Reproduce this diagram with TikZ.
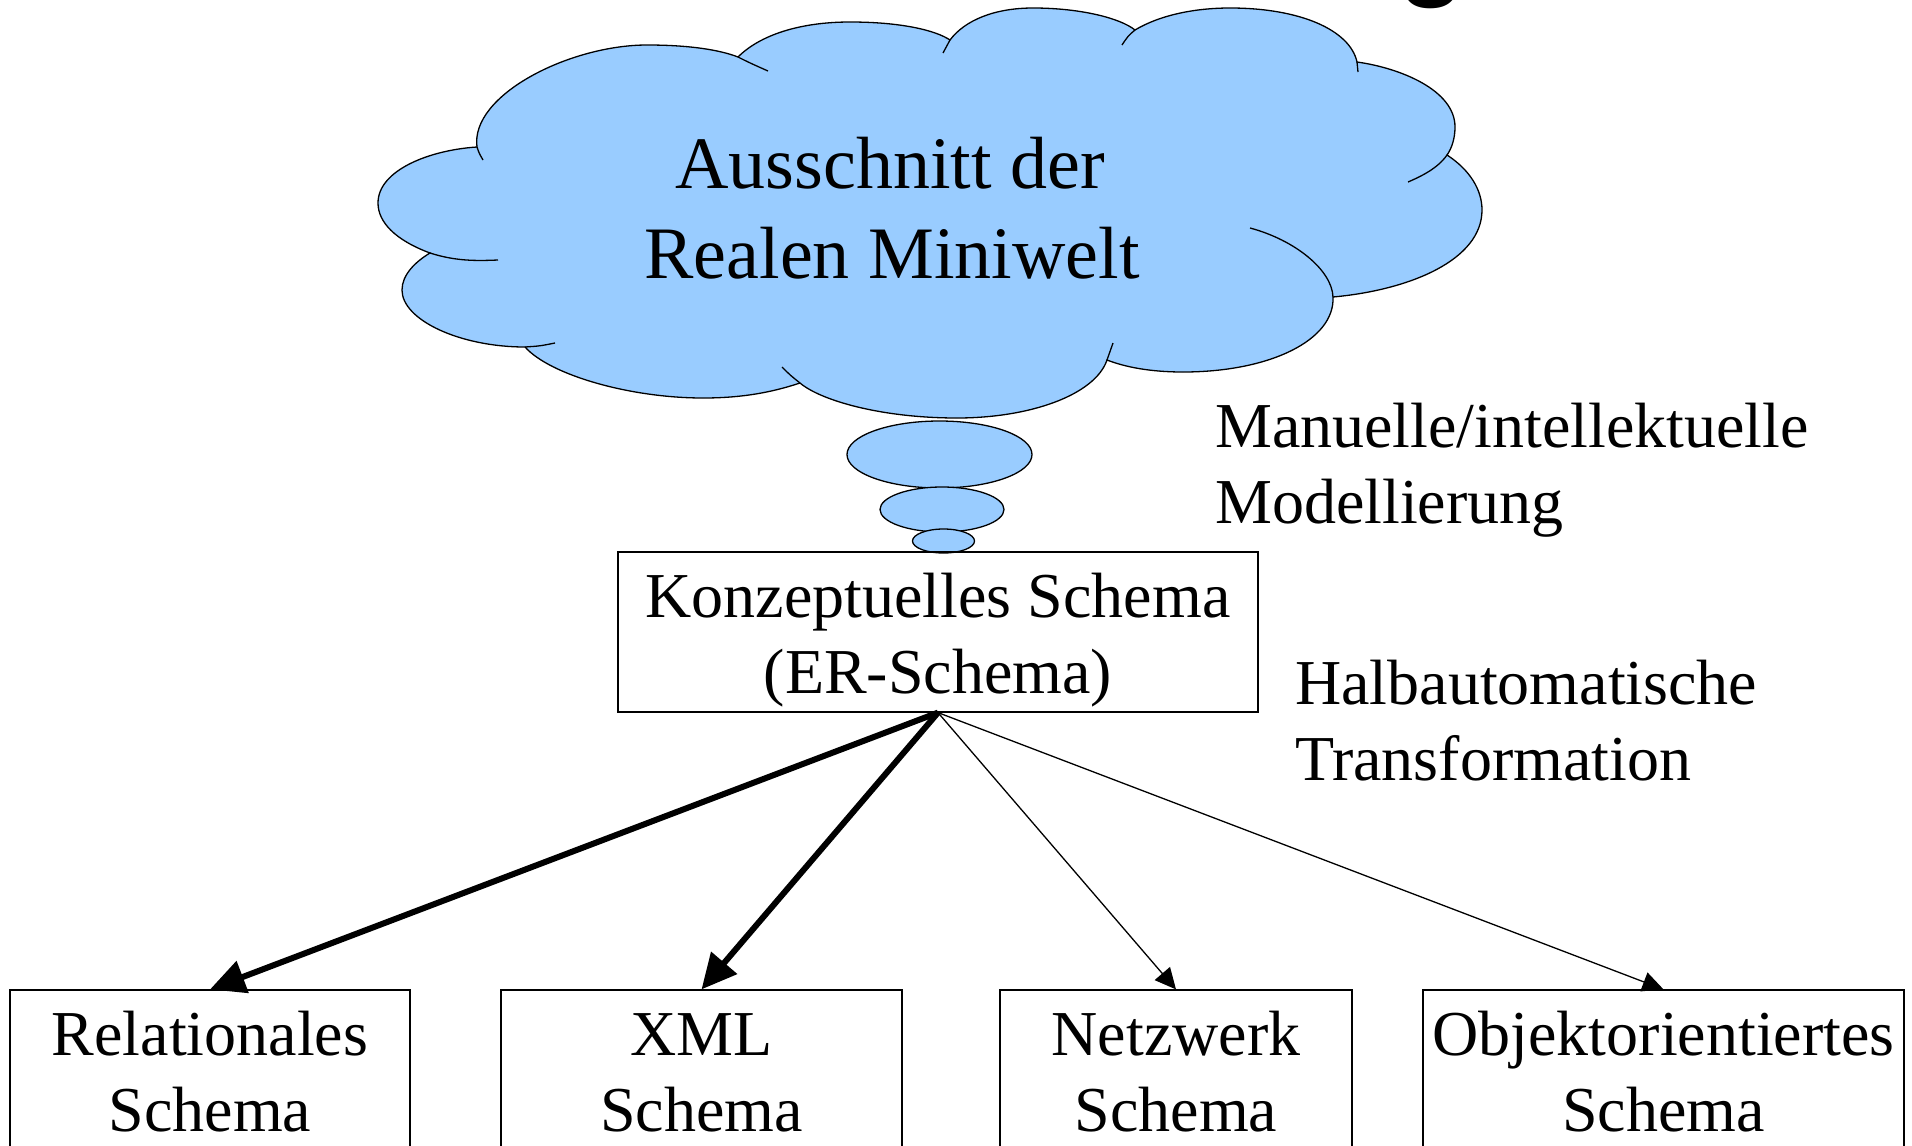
\documentclass[tikz,border=0pt]{standalone}
\usepackage{fontspec}
\setmainfont{Liberation Serif}
\newfontfamily\titlefont{Liberation Sans}
\usetikzlibrary{arrows.meta,shapes.geometric}
\definecolor{cloudblue}{HTML}{99CCFF}
\tikzset{
  cloudline/.style={draw=black, line width=1.3pt, fill=cloudblue},
  tailline/.style={draw=black, line width=1.3pt},
  txt/.style={inner sep=0pt, font=\fontsize{64}{76}\selectfont},
  bigtxt/.style={inner sep=0pt, font=\fontsize{74}{89}\selectfont},
  schemabox/.style={draw=black, line width=1.2pt, inner sep=0pt, rectangle},
  thought/.style={ellipse, draw=black, line width=1.3pt, fill=cloudblue, inner sep=0pt},
  thickarrow/.style={line width=6pt, -{Triangle[length=35pt,width=33pt]}},
  thinarrow/.style={line width=1.3pt, -{Triangle[length=21pt,width=20pt]}},
}
\begin{document}
\begin{tikzpicture}[x=1pt,y=-1pt]
\useasboundingbox (0,0) rectangle (1912,1146);
\clip (0,0) rectangle (1912,1146);
\fill[white] (0,0) rectangle (1912,1146);

% fragment of title glyph at the top edge
\node[inner sep=0pt, anchor=base, font=\titlefont\bfseries\fontsize{110}{110}\selectfont] (title) at (1432,-15) {g};

% cloud
\path[cloudline] (477,147) .. controls (470,95) and (570,45) .. (647,45)
 .. controls (690,45) and (720,50) .. (738,57)
 .. controls (760,35) and (800,22) .. (850,22)
 .. controls (900,22) and (935,30) .. (950,40)
 .. controls (965,20) and (995,8) .. (1033,8)
 .. controls (1080,8) and (1120,18) .. (1135,30)
 .. controls (1160,15) and (1195,8) .. (1230,8)
 .. controls (1300,8) and (1350,30) .. (1357,62)
 .. controls (1400,68) and (1455,90) .. (1455,127)
 .. controls (1455,138) and (1452,148) .. (1447,155)
 .. controls (1470,170) and (1482,190) .. (1482,210)
 .. controls (1482,260) and (1410,290) .. (1333,297)
 .. controls (1335,340) and (1270,372) .. (1183,372)
 .. controls (1150,372) and (1125,367) .. (1107,360)
 .. controls (1095,395) and (1030,418) .. (957,418)
 .. controls (880,418) and (820,400) .. (800,383)
 .. controls (770,393) and (740,398) .. (703,398)
 .. controls (630,398) and (550,375) .. (525,347)
 .. controls (460,347) and (402,320) .. (402,290)
 .. controls (402,275) and (415,262) .. (430,253)
 .. controls (395,240) and (378,222) .. (378,203)
 .. controls (378,170) and (430,150) .. (477,147) -- cycle;
% interior arc tails
\draw[tailline] (477,147) .. controls (479,153) .. (483,160);
\draw[tailline] (738,57) .. controls (750,63) .. (768,71);
\draw[tailline] (950,40) .. controls (946,46) .. (943,53);
\draw[tailline] (1135,30) .. controls (1128,36) .. (1122,45);
\draw[tailline] (1357,62) .. controls (1358,67) .. (1358,72);
\draw[tailline] (1447,155) .. controls (1438,168) and (1422,176) .. (1408,182);
\draw[tailline] (1333,297) .. controls (1332,270) and (1295,240) .. (1250,228);
\draw[tailline] (1107,360) .. controls (1110,352) .. (1113,343);
\draw[tailline] (800,383) .. controls (790,375) .. (782,367);
\draw[tailline] (525,347) .. controls (540,346) .. (555,343);
\draw[tailline] (430,253) .. controls (455,261) and (475,261) .. (498,260);

\node[bigtxt, anchor=base] (c1) at (890,188) {Ausschnitt der};
\node[bigtxt, anchor=base] (c2) at (892,278) {Realen Miniwelt};

% thought bubbles
\node[thought, minimum width=185pt, minimum height=67pt] (e1) at (939.5,454.5) {};
\node[thought, minimum width=124pt, minimum height=45pt] (e2) at (942,509.5) {};
\node[thought, minimum width=62pt, minimum height=24pt] (e3) at (943.5,541) {};

% conceptual schema
\node[schemabox, minimum width=640pt, minimum height=160pt] (k) at (938,632) {};
\node[txt, anchor=base] (k1) at (938,617) {Konzeptuelles Schema};
\node[txt, anchor=base] (k2) at (938,693) {(ER-Schema)};

% side labels
\node[txt, anchor=base west] (m1) at (1215,447) {Manuelle/intellektuelle};
\node[txt, anchor=base west] (m2) at (1215,523) {Modellierung};
\node[txt, anchor=base west] (h1) at (1295,704) {Halbautomatische};
\node[txt, anchor=base west] (h2) at (1295,780) {Transformation};

% target schemas
\node[schemabox, minimum width=400pt, minimum height=180pt] (b1) at (210,1080) {};
\node[schemabox, minimum width=401pt, minimum height=180pt] (b2) at (701.5,1080) {};
\node[schemabox, minimum width=352pt, minimum height=180pt] (b3) at (1176,1080) {};
\node[schemabox, minimum width=481pt, minimum height=180pt] (b4) at (1663.5,1080) {};
\node[txt, anchor=base] (b1a) at (210,1055) {Relationales};
\node[txt, anchor=base] (b1b) at (210,1131) {Schema};
\node[txt, anchor=base] (b2a) at (701.5,1055) {XML};
\node[txt, anchor=base] (b2b) at (701.5,1131) {Schema};
\node[txt, anchor=base] (b3a) at (1176,1055) {Netzwerk};
\node[txt, anchor=base] (b3b) at (1176,1131) {Schema};
\node[txt, anchor=base] (b4a) at (1663.5,1055) {Objektorientiertes};
\node[txt, anchor=base] (b4b) at (1663.5,1131) {Schema};

% transformations
\draw[thickarrow] (k.south) -- (b1.north);
\draw[thickarrow] (k.south) -- (b2.north);
\draw[thinarrow] (k.south) -- (b3.north);
\draw[thinarrow] (k.south) -- (b4.north);
\end{tikzpicture}
\end{document}
